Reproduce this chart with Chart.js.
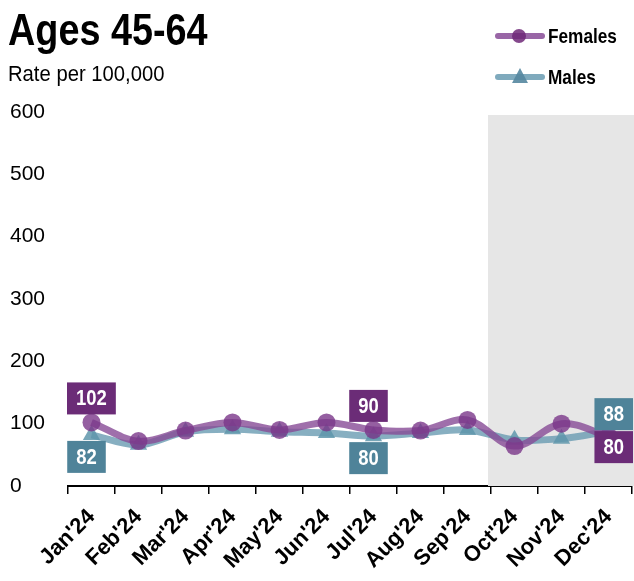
<!DOCTYPE html>
<html>
<head>
<meta charset="utf-8">
<script src="https://cdn.jsdelivr.net/npm/chart.js@4/dist/chart.umd.min.js"></script>
<style>
  html, body { margin: 0; padding: 0; background: #fff; }
  #wrap { position: relative; width: 634px; height: 581px; overflow: hidden; font-family: "Liberation Sans", Arial, sans-serif; }
  #chart { position: absolute; left: 0; top: 0; }
  .title { position: absolute; left: 8px; top: 7px; font-size: 45px; font-weight: bold; line-height: 1; color: #000; transform: scaleX(0.84); transform-origin: 0 0; white-space: nowrap; }
  .sub { position: absolute; left: 8px; top: 63px; font-size: 22px; line-height: 1; color: #000; transform: scaleX(0.92); transform-origin: 0 0; white-space: nowrap; }
  .leg { position: absolute; left: 495px; height: 20px; width: 140px; }
  .leg .ln { position: absolute; left: 0; top: 7px; width: 50px; height: 6px; border-radius: 3px; }
  .leg .txt { position: absolute; left: 53px; top: 0; font-size: 21px; font-weight: bold; line-height: 20px; color: #000; transform: scaleX(0.82); transform-origin: 0 0; white-space: nowrap; }
</style>
</head>
<body>
<div id="wrap">
  <canvas id="chart" width="634" height="581"></canvas>
  <div class="title">Ages 45-64</div>
  <div class="sub">Rate per 100,000</div>
  <div class="leg" style="top:26px">
    <div class="ln" style="background:rgba(135,75,150,0.85)"></div>
    <div style="position:absolute;left:17px;top:3px;width:14px;height:14px;border-radius:50%;background:rgba(110,40,120,0.85)"></div>
    <div class="txt">Females</div>
  </div>
  <div class="leg" style="top:67px">
    <div class="ln" style="background:rgba(105,155,178,0.85)"></div>
    <div style="position:absolute;left:17px;top:1px;width:0;height:0;border-left:8px solid transparent;border-right:8px solid transparent;border-bottom:15px solid rgba(85,135,160,0.9)"></div>
    <div class="txt">Males</div>
  </div>
</div>
<script>
// ---- data ----
const months = ["Jan'24","Feb'24","Mar'24","Apr'24","May'24","Jun'24","Jul'24","Aug'24","Sep'24","Oct'24","Nov'24","Dec'24"];
const females = [102, 72, 89, 102, 90, 102, 90, 89, 106, 64, 100, 80];
const males   = [82, 66, 87, 91, 87, 85, 80, 85, 90, 74, 76, 88];
const yTicks  = [0, 100, 200, 300, 400, 500, 600];
const labeledMonths = [0, 6, 11];
const shadeFrom = 9; // Oct'24 onward shaded

const FONT = "'Liberation Sans', Arial, sans-serif";
const femLine = 'rgba(135,75,150,0.8)';
const femPoint = 'rgba(122,55,138,0.8)';
const femBox = '#6B2C77';
const maleLine = 'rgba(105,155,178,0.8)';
const malePoint = 'rgba(95,150,172,0.85)';
const maleBox = '#4F8399';

const shadePlugin = {
  id: 'shade',
  beforeDatasetsDraw(chart) {
    const {ctx, chartArea, scales: {x}} = chart;
    const x0 = x.getPixelForValue(shadeFrom - 0.5) - 3;
    ctx.save();
    ctx.fillStyle = '#E6E6E6';
    ctx.fillRect(x0, chartArea.top + 3, chart.width - x0, chartArea.bottom - chartArea.top - 3);
    ctx.restore();
  }
};

const labelPlugin = {
  id: 'valueBoxes',
  afterDatasetsDraw(chart) {
    const {ctx, chartArea} = chart;
    const dxMap = {0: -5, 6: -5, 11: 6};
    const sx = 0.84;
    ctx.save();
    ctx.font = 'bold 22px ' + FONT;
    ctx.textAlign = 'center';
    ctx.textBaseline = 'middle';
    labeledMonths.forEach(i => {
      const pf = chart.getDatasetMeta(0).data[i];
      const pm = chart.getDatasetMeta(1).data[i];
      const items = [
        {v: females[i], p: pf, c: femBox},
        {v: males[i], p: pm, c: maleBox}
      ];
      const upper = females[i] >= males[i] ? items[0] : items[1];
      const lower = upper === items[0] ? items[1] : items[0];
      const last = i === months.length - 1;
      [[upper, true], [lower, false]].forEach(([it, above]) => {
        const txt = String(it.v);
        const w = ctx.measureText(txt).width * sx + 18;
        const h = 32;
        let cx = it.p.x + (dxMap[i] || 0);
        let left = cx - w / 2;
        if (left < chartArea.left - 1) left = chartArea.left - 1;
        if (left + w > chart.width - 1) left = chart.width - 1 - w;
        let top;
        if (above) top = last ? it.p.y - h - 1 : it.p.y - h - 8;
        else top = last ? it.p.y - 5 : it.p.y + 6;
        ctx.fillStyle = it.c;
        ctx.fillRect(left, top, w, h);
        ctx.fillStyle = '#fff';
        ctx.save();
        ctx.translate(left + w / 2, top + h / 2 + 1);
        ctx.scale(sx, 1);
        ctx.fillText(txt, 0, 0);
        ctx.restore();
      });
    });
    ctx.restore();
  }
};

new Chart(document.getElementById('chart'), {
  type: 'line',
  data: {
    labels: months,
    datasets: [
      {
        label: 'Females', data: females,
        borderColor: femLine, backgroundColor: femPoint,
        borderWidth: 7, tension: 0.35,
        pointStyle: 'circle', pointRadius: 9, pointBorderWidth: 0,
        pointBackgroundColor: femPoint
      },
      {
        label: 'Males', data: males,
        borderColor: maleLine, backgroundColor: malePoint,
        borderWidth: 7, tension: 0.35,
        pointStyle: 'triangle', pointRadius: 10, pointBorderWidth: 0,
        pointBackgroundColor: malePoint
      }
    ]
  },
  options: {
    responsive: false,
    animation: false,
    events: [],
    layout: { autoPadding: false, padding: { top: 112, left: 10, right: 2, bottom: 0 } },
    plugins: { legend: { display: false }, tooltip: { enabled: false } },
    scales: {
      x: {
        offset: true,
        grid: { display: true, drawOnChartArea: false, offset: true, color: '#000', lineWidth: 1.5, tickLength: 8 },
        border: { display: true, color: '#000', width: 2 },
        ticks: {
          color: '#000', maxRotation: 45, minRotation: 45, padding: 10,
          font: { family: FONT, size: 22, weight: 'bold' }
        },
        afterFit(s) { s.height = 95; s.paddingLeft = 0; s.paddingRight = 0; }
      },
      y: {
        min: 0, max: 600,
        afterBuildTicks(s) { s.ticks = yTicks.map(v => ({value: v})); },
        grid: { display: false },
        border: { display: false },
        ticks: {
          color: '#000', crossAlign: 'far', padding: 0,
          font: { family: FONT, size: 21 }
        },
        afterFit(s) { s.width = 58; }
      }
    }
  },
  plugins: [shadePlugin, labelPlugin]
});
</script>
</body>
</html>
